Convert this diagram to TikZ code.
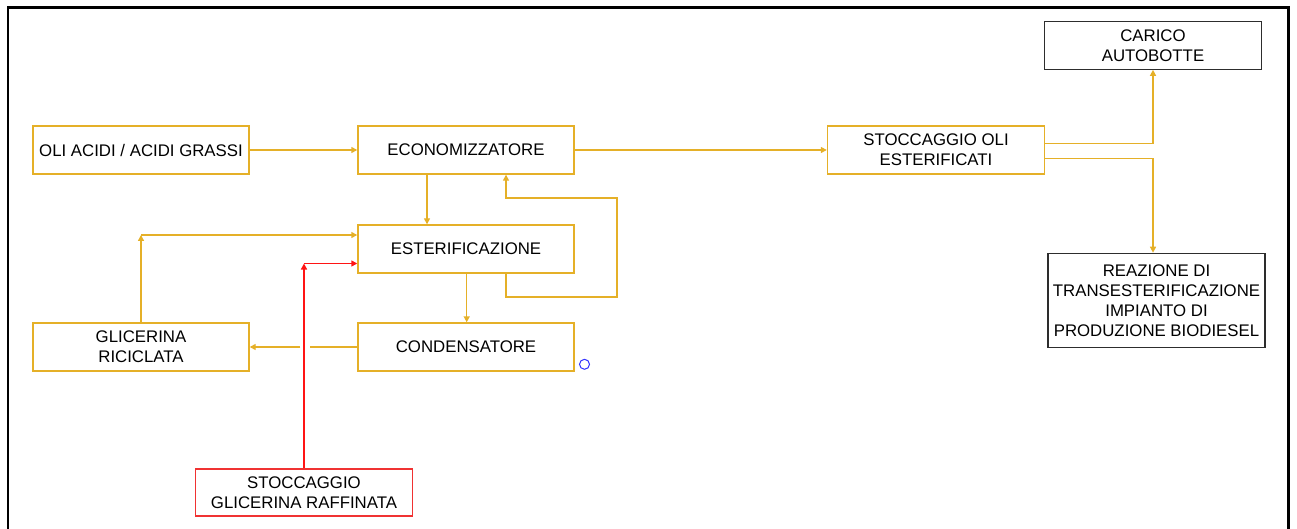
\documentclass[tikz,border=0pt]{standalone}
\usepackage{fontspec}
\setmainfont{Liberation Sans}
\usetikzlibrary{arrows.meta,calc}
\definecolor{gold}{RGB}{229,176,40}
\definecolor{rline}{RGB}{255,20,20}
\definecolor{rbox}{RGB}{240,50,50}
\definecolor{dbox}{RGB}{45,45,45}
\definecolor{bcirc}{RGB}{50,50,255}
\begin{document}
\begin{tikzpicture}[x=1pt,y=-1pt,
  box/.style={draw=gold,line width=1.4pt,minimum width=216pt,minimum height=48pt,inner sep=0pt,align=center,
    font=\fontsize{16.8}{20}\selectfont},
  redbox/.style={box,draw=rbox},
  blackbox/.style={box,draw=dbox,line width=1.2pt,minimum width=217pt},
  flow/.style={draw=gold,line width=1.4pt,-{Triangle[length=6pt,width=6pt]}},
  plain/.style={draw=gold,line width=1.4pt},
  redflow/.style={draw=rline,line width=1.4pt,-{Triangle[length=6pt,width=6pt]}}]
\useasboundingbox (0,0) rectangle (1297,529);
\draw[line width=2.6pt] (8,530) -- (8,7.5) -- (1288.5,7.5) -- (1288.5,530);

\node[box] (oli) at (141,150) {OLI ACIDI / ACIDI GRASSI};
\node[box] (eco) at (466,150) {ECONOMIZZATORE};
\node[box] (est) at (466,249) {ESTERIFICAZIONE};
\node[box] (cond) at (466,347) {CONDENSATORE};
\node[box] (glic) at (141,347) {GLICERINA\\RICICLATA};
\node[box,minimum width=217pt] (sto) at (936,150) {STOCCAGGIO OLI\\ESTERIFICATI};
\node[blackbox,minimum height=47.5pt] (car) at (1153,45.5) {CARICO\\AUTOBOTTE};
\node[blackbox,minimum height=94pt] (rea) at (1156.5,300.3) {REAZIONE DI\\TRANSESTERIFICAZIONE\\IMPIANTO DI\\PRODUZIONE BIODIESEL};
\node[redbox,minimum width=216.5pt,minimum height=47pt] (sgr) at (304,492.5) {STOCCAGGIO\\GLICERINA RAFFINATA};
\node[circle,draw=bcirc,line width=1pt,minimum size=10pt,inner sep=0pt] (dot) at (584.5,364.3) {};

\coordinate (l1) at (617,297);
\coordinate (l2) at (617,198);
\coordinate (gc) at (141,235);
\coordinate (rc) at (304,263.5);

\path[flow] (oli.east) -- (eco.west);
\path[flow] (eco.east) -- (sto.west);
\path[flow] ([xshift=-39pt]eco.south) -- ([xshift=-39pt]est.north);
\path[flow] ([xshift=0.7pt]est.south) -- ([xshift=0.7pt]cond.north);
\path[flow] ([xshift=40pt]est.south) |- (l1) -- (l2) -| ([xshift=40pt]eco.south);
\path[plain] (cond.west) -- ([xshift=-47pt]cond.west);
\path[flow] ([xshift=-57pt]cond.west) -- (glic.east);
\path[flow] (glic.north) -- (gc);
\path[flow] (gc) -- ([yshift=14pt]est.west);
\path[redflow] (sgr.north) -- (rc);
\path[redflow] (rc) -- ([yshift=-14.5pt]est.west);
\path[flow] ([yshift=6.7pt]sto.east) -| (car.south);
\path[flow] ([yshift=-8.7pt]sto.east) -| ([xshift=-3.5pt]rea.north);
\end{tikzpicture}
\end{document}
